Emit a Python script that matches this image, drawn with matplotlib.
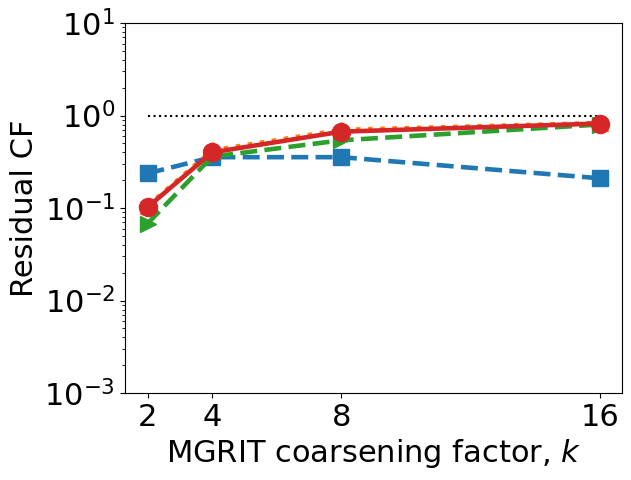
import matplotlib.pyplot as plt
import numpy as np

k = [2, 4, 8, 16]
cf_blue = [0.237, 0.355, 0.355, 0.21]
cf_orange = [0.105, 0.42, 0.70, 0.83]
cf_green = [0.068, 0.36, 0.54, 0.80]
cf_red = [0.102, 0.40, 0.67, 0.82]
ref_line = [1.0, 1.0]

plt.rcParams.update({
    'font.size': 22,
    'axes.labelsize': 22,
    'xtick.labelsize': 22,
    'ytick.labelsize': 22,
})

fig = plt.figure(figsize=(6.31, 4.8), dpi=100)
ax = fig.add_axes([0.198, 0.181, 0.788, 0.771])

ax.plot([k[0], k[-1]], ref_line, 'k:', lw=1.5)
ax.plot(k, cf_blue, 's--', color='tab:blue', lw=3.3, ms=12)
ax.plot(k, cf_orange, '^:', color='tab:orange', lw=3.3, ms=12)
ax.plot(k, cf_green, '>--', color='tab:green', lw=3.3, ms=12)
ax.plot(k, cf_red, 'o-', color='tab:red', lw=3.3, ms=13)

ax.set_yscale('log')
ax.set_ylim(1e-3, 1e1)
ax.set_xticks(k)
ax.set_xticklabels([str(v) for v in k])
ax.set_xlabel('MGRIT coarsening factor, $k$')
ax.set_ylabel('Residual CF')

fig.savefig('out.png', dpi=100)
